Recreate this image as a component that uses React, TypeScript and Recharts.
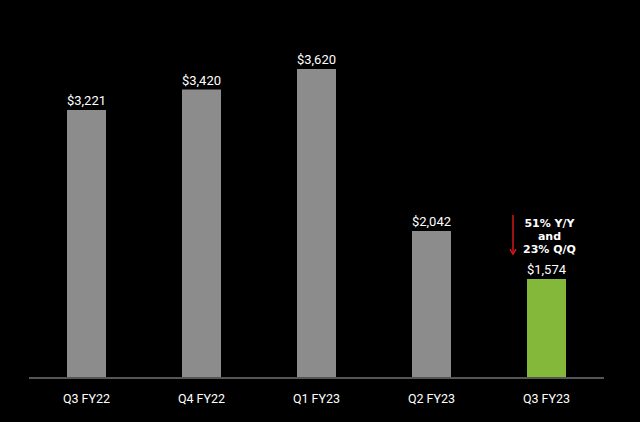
import { Bar, BarChart, Cell, LabelList, XAxis, YAxis } from "recharts";

const quarters = ["Q3 FY22", "Q4 FY22", "Q1 FY23", "Q2 FY23", "Q3 FY23"];
const revenue = [3221, 3420, 3620, 2042, 1574];
const barColors = ["#8c8c8c", "#8c8c8c", "#8c8c8c", "#8c8c8c", "#84b83a"];
const noteLines = ["51% Y/Y", "and", "23% Q/Q"];

const data = quarters.map((q, i) => ({ q, revenue: revenue[i] }));

const FONT = "Roboto, 'DejaVu Sans', sans-serif";

function ValueLabel(props: any) {
  const { x, y, width, value, index } = props;
  const cx = x + width / 2;
  return (
    <g>
      <text
        x={cx}
        y={y - 5}
        textAnchor="middle"
        fill="#ffffff"
        fontSize={13}
        fontFamily={FONT}
      >
        ${value.toLocaleString("en-US")}
      </text>
      {index === quarters.length - 1 && (
        <g>
          {noteLines.map((t, i) => (
            <text
              key={t}
              x={cx + 3}
              y={y - 52 + i * 13}
              textAnchor="middle"
              fill="#ffffff"
              fontSize={11}
              fontWeight="bold"
              fontFamily="'DejaVu Sans', sans-serif"
            >
              {t}
            </text>
          ))}
          <line x1={x - 14} y1={y - 64} x2={x - 14} y2={y - 27} stroke="#e3181b" strokeWidth={1.4} />
          <path d={`M${x - 17},${y - 30} L${x - 14},${y - 25} L${x - 11},${y - 30}`} fill="none" stroke="#e3181b" strokeWidth={1.4} />
        </g>
      )}
    </g>
  );
}

export default function App() {
  return (
    <div style={{ position: "absolute", left: 0, top: 0, width: 640, height: 422, background: "#000" }}>
      <BarChart
        width={640}
        height={422}
        data={data}
        margin={{ top: 30, right: 36, bottom: 14, left: 29 }}
        barSize={39}
      >
        <XAxis
          dataKey="q"
          height={30}
          axisLine={{ stroke: "#555", strokeWidth: 2 }}
          tickLine={false}
          tick={{ fill: "#ffffff", fontSize: 12.5, fontFamily: FONT }}
          tickMargin={10}
        />
        <YAxis hide domain={[610, 4000]} allowDataOverflow />
        <Bar dataKey="revenue" isAnimationActive={false}>
          {data.map((d, i) => (
            <Cell key={d.q} fill={barColors[i]} />
          ))}
          <LabelList dataKey="revenue" content={<ValueLabel />} />
        </Bar>
      </BarChart>
    </div>
  );
}
